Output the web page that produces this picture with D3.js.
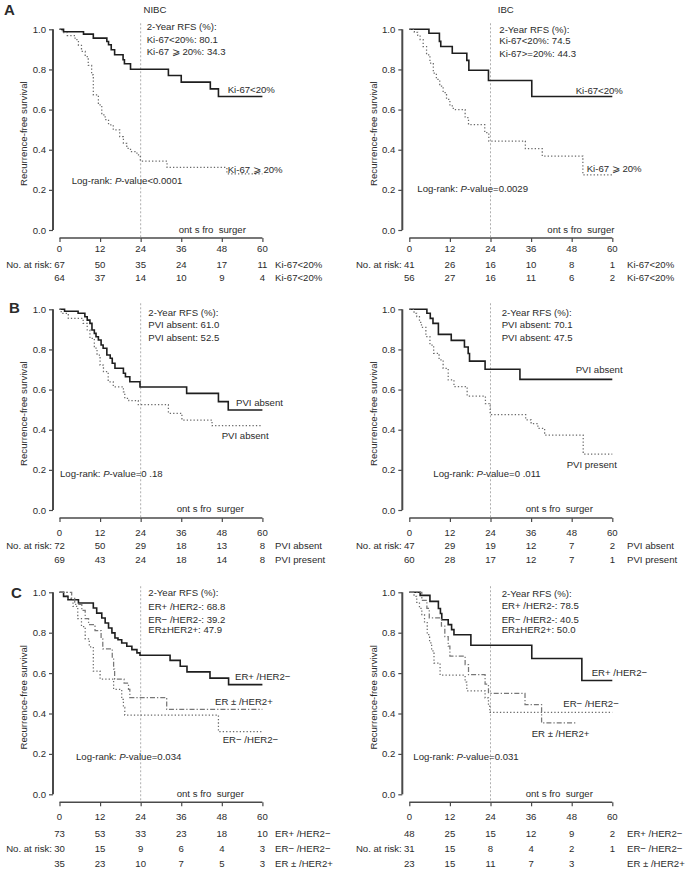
<!DOCTYPE html>
<html><head><meta charset="utf-8">
<script src="https://cdn.jsdelivr.net/npm/d3@7"></script>
<style>
body{margin:0;background:#fff}
text{font-family:'Liberation Sans',Arial,Helvetica,sans-serif;fill:#2b2b2b}
</style>
</head><body>
<svg id="chart" width="685" height="871"></svg>
<script>
// ---------------- DATA ----------------
const timeTicks = [0, 12, 24, 36, 48, 60];
const survTicks = [0, 0.2, 0.4, 0.6, 0.8, 1.0];
const survTickLabels = ["0.0", "0.2", "0.4", "0.6", "0.8", "1.0"];

// Panel A (Ki-67)
const nibcKiLow = [[0,1],[1.2,0.988],[7.1,0.976],[10,0.956],[14,0.939],[14.5,0.923],[15.3,0.898],[16.3,0.873],[18.8,0.848],[19.2,0.828],[21,0.801],[32.2,0.77],[36,0.737],[44.6,0.703],[47,0.665]];
const nibcKiHigh = [[0,1],[0.8,0.984],[2.3,0.969],[4.6,0.948],[5.6,0.92],[6.5,0.89],[7.6,0.864],[8.5,0.82],[9.5,0.773],[10,0.673],[11.5,0.623],[12.5,0.574],[13.5,0.55],[14.5,0.524],[15.9,0.499],[17.8,0.465],[18.9,0.432],[19.9,0.407],[21,0.39],[22.9,0.374],[23.9,0.343],[31.8,0.312],[49.5,0.28]];
const ibcKiLow = [[0,1],[5.8,0.98],[8.9,0.94],[9.3,0.914],[12.7,0.881],[17,0.845],[17.6,0.796],[23.4,0.745],[36.2,0.665]];
const ibcKiHigh = [[0,1],[1.5,0.985],[2.5,0.97],[3.2,0.948],[4.1,0.914],[5.1,0.873],[6.1,0.832],[7.1,0.782],[8,0.75],[9,0.717],[10,0.684],[11,0.651],[12,0.618],[13,0.6],[16.5,0.56],[17.5,0.525],[22.3,0.485],[23.5,0.443],[34.3,0.405],[39.3,0.368],[51.3,0.275]];

// Panel B (PVI)
const nibcPviAbs = [[0,1],[1.5,0.99],[5.5,0.98],[7.5,0.963],[8.2,0.946],[9,0.93],[9.6,0.897],[10.3,0.88],[10.8,0.863],[11.5,0.847],[12.3,0.822],[12.9,0.806],[14,0.772],[15,0.756],[15.6,0.731],[16.4,0.706],[18.9,0.681],[19.5,0.664],[20.8,0.639],[23.8,0.613],[37.6,0.581],[47,0.54],[49.9,0.498]];
const nibcPviPres = [[0,1],[0.5,0.98],[2.6,0.955],[7,0.93],[8.2,0.897],[9,0.855],[10.3,0.806],[11.1,0.772],[12,0.722],[13,0.689],[14.4,0.639],[15.9,0.614],[18.9,0.589],[19.3,0.556],[20.5,0.545],[23.3,0.525],[32.2,0.482],[36.2,0.448],[45.1,0.42]];
const ibcPviAbs = [[0,1],[5.2,0.98],[6.2,0.955],[7,0.93],[8.6,0.875],[12.4,0.845],[16.3,0.812],[17.4,0.78],[17.8,0.742],[22.4,0.701],[32.7,0.651]];
const ibcPviPres = [[0,1],[1.4,0.98],[2.2,0.963],[3,0.935],[3.6,0.91],[4.9,0.864],[6.1,0.822],[7.2,0.781],[8.8,0.748],[10,0.706],[11.5,0.648],[13.2,0.615],[17.1,0.568],[22.5,0.53],[23.9,0.475],[34.4,0.449],[36,0.43],[38,0.407],[40,0.373],[51.4,0.279]];

// Panel C (ER / HER2)
const nibcErPos = [[0,1],[1.2,0.98],[2.5,0.963],[5.6,0.947],[10,0.922],[11,0.897],[12.5,0.873],[13.5,0.848],[14.5,0.823],[15.5,0.799],[16.4,0.774],[17.3,0.765],[18.4,0.749],[19.9,0.733],[21.4,0.716],[22.9,0.70],[23.8,0.688],[32.7,0.663],[35.7,0.634],[37.7,0.606],[44.5,0.575],[50,0.543]];
const nibcErNeg = [[0,1],[2.2,0.97],[4,0.93],[5.4,0.87],[6.5,0.83],[7.6,0.77],[8.8,0.73],[10,0.61],[12,0.57],[16,0.52],[18.4,0.47],[18.9,0.43],[19.3,0.392],[47,0.31]];
const nibcHer2 = [[0,1],[3.6,0.97],[4.5,0.94],[6.6,0.91],[7.6,0.87],[8.6,0.84],[10.5,0.81],[12.3,0.77],[12.8,0.72],[15.6,0.675],[16,0.62],[16.3,0.57],[19.1,0.55],[20.4,0.52],[20.8,0.479],[31.7,0.42]];
const ibcErPos = [[0,1],[3.2,0.985],[6.1,0.955],[8.6,0.92],[9.2,0.895],[9.6,0.864],[11.5,0.84],[12.5,0.815],[13.2,0.79],[18.2,0.738],[36.2,0.672],[51,0.563]];
const ibcErNeg = [[0,1],[1.4,0.98],[2.2,0.95],[3,0.92],[3.7,0.89],[4.5,0.85],[5.3,0.79],[6,0.75],[6.6,0.71],[7.3,0.65],[9.1,0.59],[16.5,0.555],[17,0.512],[22.4,0.477],[23.4,0.44],[23.8,0.405]];
const ibcHer2 = [[0,1],[3.7,0.96],[5.2,0.92],[5.9,0.873],[9.5,0.832],[10.5,0.78],[11.5,0.733],[12,0.684],[16.5,0.642],[17.5,0.592],[22.4,0.545],[23.4,0.50],[34.2,0.444],[39.1,0.353]];
const followUpEnd = [60, 60, 49.5];

// Numbers at risk
const riskNibcKiLow = [67, 50, 35, 24, 17, 11];
const riskNibcKiHigh = [64, 37, 14, 10, 9, 4];
const riskIbcKiLow = [41, 26, 16, 10, 8, 1];
const riskIbcKiHigh = [56, 27, 16, 11, 6, 2];
const riskNibcPviAbs = [72, 50, 29, 18, 13, 8];
const riskNibcPviPres = [69, 43, 24, 18, 14, 8];
const riskIbcPviAbs = [47, 29, 19, 12, 7, 2];
const riskIbcPviPres = [60, 28, 17, 12, 7, 1];
const riskNibcErPos = [73, 53, 33, 23, 18, 10];
const riskNibcErNeg = [30, 15, 9, 6, 4, 3];
const riskNibcHer2 = [35, 23, 10, 7, 5, 3];
const riskIbcErPos = [48, 25, 15, 12, 9, 2];
const riskIbcErNeg = [31, 15, 8, 4, 2, 1];
const riskIbcHer2 = [23, 15, 11, 7, 3, null];

// Text
const groupTitles = ["NIBC", "IBC"];
const panelLetters = ["A", "B", "C"];
const yTitle = "Recurrence-free survival";
const xTitle = "ont s fro  surger";
const rfsHeader = "2-Year RFS (%):";

// ---------------- DRAW ----------------
const svg = d3.select("#chart");
const FS = 9.6;

function txt(g, x, cy, s, o = {}) {
  const size = o.size || FS;
  const t = g.append("text")
    .attr("x", x).attr("y", cy + size * 0.36)
    .attr("font-size", size)
    .attr("text-anchor", o.anchor || "start")
    .style("white-space", "pre");
  if (o.weight) t.attr("font-weight", o.weight);
  if (o.parts) {
    o.parts.forEach(p => {
      const ts = t.append("tspan").text(p[0]);
      if (p[1]) ts.attr("font-style", "italic");
    });
  } else t.text(s);
  return t;
}

const styles = {
  solid: {stroke: "#1e1e1e", width: 1.6, dash: null},
  dot: {stroke: "#6a6a6a", width: 1.25, dash: "1.3,2.1"},
  dashdot: {stroke: "#777", width: 1.25, dash: "5,2,1.3,2"}
};

const cols = [
  {x0: 59.5, x1: 262.4, axX: 53},
  {x0: 409.3, x1: 612.3, axX: 402.3}
];
const rows = [
  {yT: 29.3, yB: 230, axY: 238, tickCy: 248.3, riskCy: [264.3, 277.9]},
  {yT: 309.3, yB: 510, axY: 518, tickCy: 532.3, riskCy: [545.6, 560]},
  {yT: 592.3, yB: 794.3, axY: 802.3, tickCy: 816.7, riskCy: [833.3, 848.4, 863.4]}
];

const panels = [
  { r: 0, c: 0,
    curves: [{d: nibcKiLow, s: "solid", end: followUpEnd[0]}, {d: nibcKiHigh, s: "dot", end: followUpEnd[0]}],
    rfs: ["Ki-67<20%: 80.1", "Ki-67 \u2A7E 20%: 34.3"], rfsPos: [146.7, [26.7, 39.3, 51.7]],
    labels: [["Ki-67<20%", 227.7, 90], ["Ki-67 \u2A7E 20%", 227.7, 170]],
    logrank: [["Log-rank: "], ["P", true], ["-value<0.0001"]], lrPos: [71.7, 181],
    xt: [178.7, 230],
    risk: [[riskNibcKiLow, "Ki-67<20%"], [riskNibcKiHigh, "Ki-67<20%"]], riskRowLabel: 0 },
  { r: 0, c: 1,
    curves: [{d: ibcKiLow, s: "solid", end: followUpEnd[0]}, {d: ibcKiHigh, s: "dot", end: followUpEnd[0]}],
    rfs: ["Ki-67<20%: 74.5", "Ki-67>=20%: 44.3"], rfsPos: [499.3, [29.3, 40.5, 53.3]],
    labels: [["Ki-67<20%", 575.7, 90.7], ["Ki-67 \u2A7E 20%", 586.7, 168.3]],
    logrank: [["Log-rank: "], ["P", true], ["-value=0.0029"]], lrPos: [417.3, 189],
    xt: [547.3, 230],
    risk: [[riskIbcKiLow, "Ki-67<20%"], [riskIbcKiHigh, "Ki-67<20%"]], riskRowLabel: 0 },
  { r: 1, c: 0,
    curves: [{d: nibcPviAbs, s: "solid", end: followUpEnd[1]}, {d: nibcPviPres, s: "dot", end: followUpEnd[1]}],
    rfs: ["PVI absent: 61.0", "PVI absent: 52.5"], rfsPos: [148.3, [312.3, 325, 337.3]],
    labels: [["PVI absent", 236, 402.3], ["PVI absent", 221.7, 435.7]],
    logrank: [["Log-rank: "], ["P", true], ["-value=0 .18"]], lrPos: [60, 473.3],
    xt: [176.7, 509],
    risk: [[riskNibcPviAbs, "PVI absent"], [riskNibcPviPres, "PVI present"]], riskRowLabel: 0 },
  { r: 1, c: 1,
    curves: [{d: ibcPviAbs, s: "solid", end: followUpEnd[1]}, {d: ibcPviPres, s: "dot", end: followUpEnd[1]}],
    rfs: ["PVI absent: 70.1", "PVI absent: 47.5"], rfsPos: [501.7, [312.7, 325, 337.3]],
    labels: [["PVI absent", 575.7, 370], ["PVI present", 566.7, 464.3]],
    logrank: [["Log-rank: "], ["P", true], ["-value=0 .011"]], lrPos: [433.3, 473.3],
    xt: [525.7, 509],
    risk: [[riskIbcPviAbs, "PVI absent"], [riskIbcPviPres, "PVI present"]], riskRowLabel: 0 },
  { r: 2, c: 0,
    curves: [{d: nibcErPos, s: "solid", end: followUpEnd[0]}, {d: nibcErNeg, s: "dot", end: followUpEnd[0]}, {d: nibcHer2, s: "dashdot", end: followUpEnd[0]}],
    rfs: ["ER+ /HER2-: 68.8", "ER\u2212 /HER2-: 39.2", "ER\u00B1HER2+: 47.9"], rfsPos: [148.3, [592.3, 606.7, 619.3, 629.8]],
    labels: [["ER+ /HER2\u2212", 235, 676.7], ["ER \u00B1 /HER2+", 215, 701.7], ["ER\u2212 /HER2\u2212", 222.7, 739.3]],
    logrank: [["Log-rank: "], ["P", true], ["-value=0.034"]], lrPos: [76, 756.7],
    xt: [176.7, 793.3],
    risk: [[riskNibcErPos, "ER+ /HER2\u2212"], [riskNibcErNeg, "ER\u2212 /HER2\u2212"], [riskNibcHer2, "ER \u00B1 /HER2+"]], riskRowLabel: 1 },
  { r: 2, c: 1,
    curves: [{d: ibcErPos, s: "solid", end: followUpEnd[0]}, {d: ibcErNeg, s: "dot", end: followUpEnd[0]}, {d: ibcHer2, s: "dashdot", end: followUpEnd[2]}],
    rfs: ["ER+ /HER2-: 78.5", "ER\u2212 /HER2-: 40.5", "ER\u00B1HER2+: 50.0"], rfsPos: [501.7, [593.3, 605.7, 619.3, 629.8]],
    labels: [["ER+ /HER2\u2212", 591.7, 672.7], ["ER\u2212 /HER2\u2212", 563.3, 704], ["ER \u00B1 /HER2+", 531.7, 733.3]],
    logrank: [["Log-rank: "], ["P", true], ["-value=0.031"]], lrPos: [413.3, 756.7],
    xt: [525.7, 793.3],
    risk: [[riskIbcErPos, "ER+ /HER2\u2212"], [riskIbcErNeg, "ER\u2212 /HER2\u2212"], [riskIbcHer2, "ER \u00B1 /HER2+"]], riskRowLabel: 1 }
];

panels.forEach(p => {
  const C = cols[p.c], R = rows[p.r];
  const g = svg.append("g");
  const x = d3.scaleLinear().domain([0, 60]).range([C.x0, C.x1]);
  const y = d3.scaleLinear().domain([0, 1]).range([R.yB, R.yT]);

  // y axis
  const yAx = g.append("g").attr("transform", `translate(${C.axX},0)`)
    .call(d3.axisLeft(y).tickValues(survTicks).tickSize(4).tickPadding(3)
      .tickFormat((d, i) => survTickLabels[i]));
  yAx.select(".domain").attr("d", `M0,${R.yB}V${R.yT}`).attr("stroke", "#4a4a4a").attr("stroke-width", 2);
  yAx.selectAll(".tick line").attr("stroke", "#4a4a4a").attr("stroke-width", 1.2);
  yAx.selectAll(".tick text").attr("font-size", FS).attr("fill", "#2b2b2b")
     .attr("font-family", "'Liberation Sans',Arial,sans-serif");

  // x axis
  const xAx = g.append("g").attr("transform", `translate(0,${R.axY})`)
    .call(d3.axisBottom(x).tickValues(timeTicks).tickSize(4).tickFormat(() => ""));
  xAx.select(".domain").attr("d", `M${C.x0},0H${C.x1}`).attr("stroke", "#4a4a4a").attr("stroke-width", 1.6);
  xAx.selectAll(".tick line").attr("stroke", "#4a4a4a").attr("stroke-width", 1.2);
  timeTicks.forEach(t => txt(g, x(t), R.tickCy, String(t), {anchor: "middle"}));

  // 24-month reference line
  g.append("line").attr("x1", x(24)).attr("x2", x(24))
    .attr("y1", y(1.03)).attr("y2", R.axY)
    .attr("stroke", "#9a9a9a").attr("stroke-width", 0.8).attr("stroke-dasharray", "2,2");

  // curves
  const line = d3.line().x(d => x(d[0])).y(d => y(d[1])).curve(d3.curveStepAfter);
  p.curves.forEach(cv => {
    const pts = cv.d.concat([[cv.end, cv.d[cv.d.length - 1][1]]]);
    const st = styles[cv.s];
    const path = g.append("path").attr("d", line(pts)).attr("fill", "none")
      .attr("stroke", st.stroke).attr("stroke-width", st.width);
    if (st.dash) path.attr("stroke-dasharray", st.dash);
  });

  // texts in plot
  txt(g, p.rfsPos[0], p.rfsPos[1][0], rfsHeader);
  p.rfs.forEach((s, i) => txt(g, p.rfsPos[0], p.rfsPos[1][i + 1], s));
  p.labels.forEach(l => txt(g, l[1], l[2], l[0]));
  txt(g, p.lrPos[0], p.lrPos[1], null, {parts: p.logrank});
  txt(g, p.xt[0], p.xt[1], xTitle);

  // y title
  const midY = (R.yT + R.yB) / 2 + 4;
  g.append("text").attr("transform", `translate(${C.axX - 29},${midY}) rotate(-90)`)
    .attr("text-anchor", "middle").attr("font-size", FS).attr("dy", "0.35em").text(yTitle);

  // risk table
  p.risk.forEach((rk, i) => {
    const cy = R.riskCy[i];
    rk[0].forEach((v, j) => { if (v !== null) txt(g, x(timeTicks[j]), cy, String(v), {anchor: "middle"}); });
    txt(g, C.x1 + 12.7 + (p.c === 1 ? 2 : 0), cy, rk[1]);
    if (i === p.riskRowLabel) txt(g, C.x0 - 7.5, cy, "No. at risk:", {anchor: "end"});
  });

  // headings
  if (p.r === 0) txt(g, (C.x0 + C.x1) / 2 - (p.c === 0 ? 6 : 5), 9.5, groupTitles[p.c], {anchor: "middle"});
  if (p.c === 0) txt(g, p.r === 0 ? 4 : (p.r === 1 ? 9 : 11), p.r === 0 ? 10 : (p.r === 1 ? 308 : 593), panelLetters[p.r], {size: 15, weight: "bold"});
});
</script>
</body></html>
